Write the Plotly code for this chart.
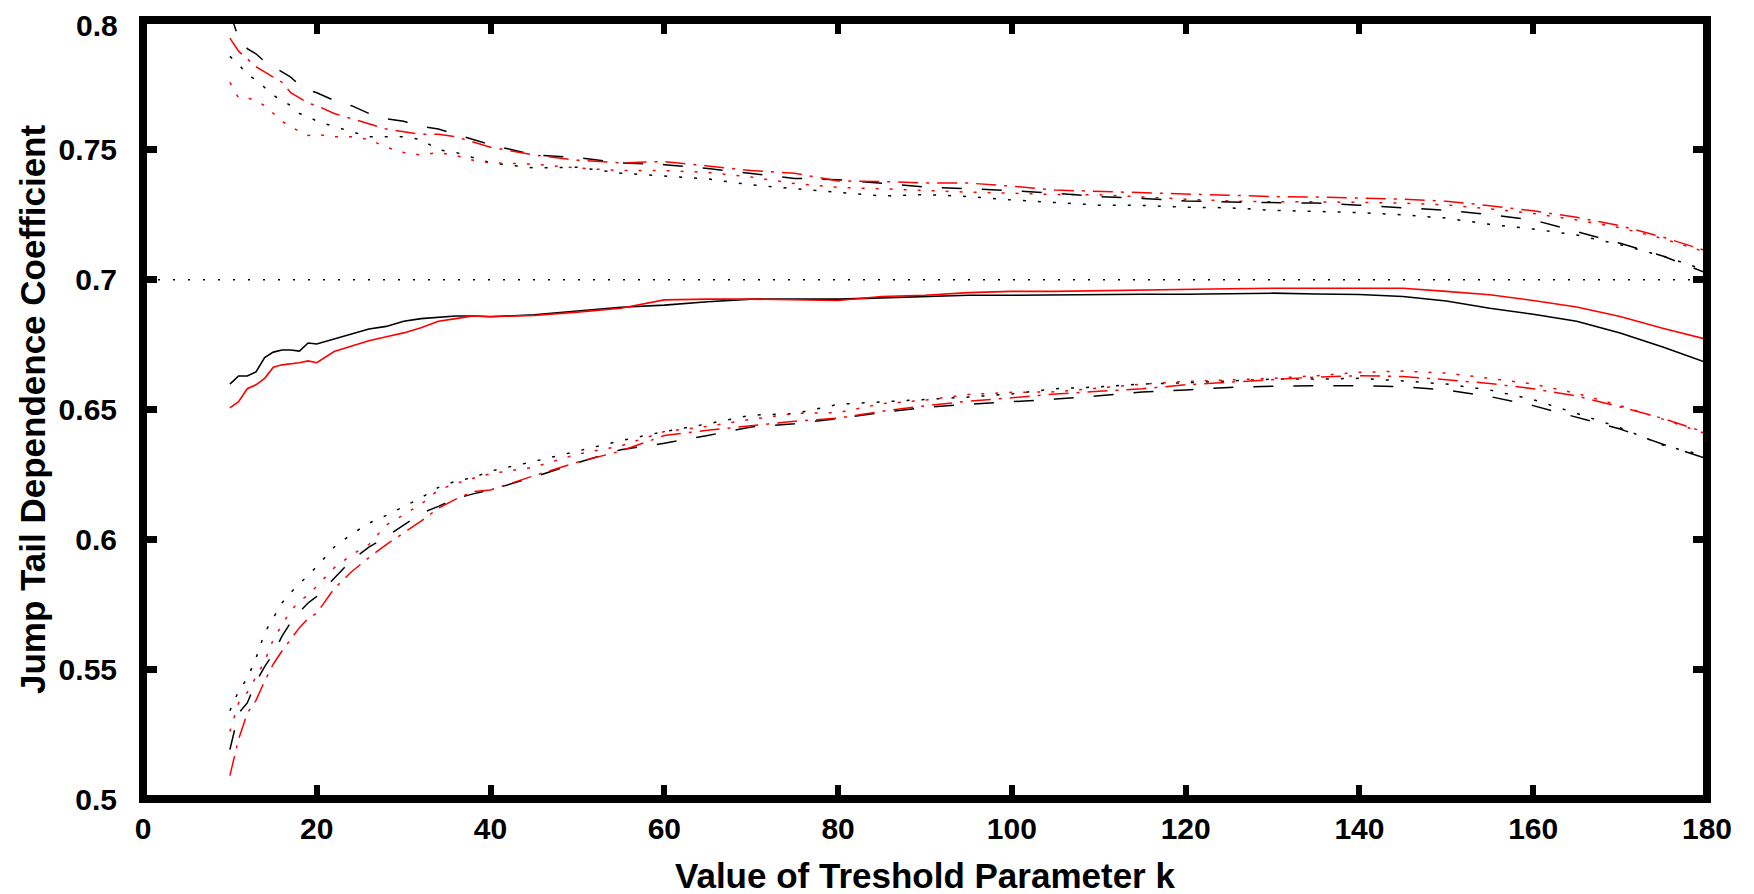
import plotly.graph_objects as go

k = [10, 11, 12, 13, 14, 15, 16, 17, 18, 19, 20, 22, 24, 26, 28, 30, 32, 34, 36, 38, 40,
     45, 50, 55, 60, 65, 70, 75, 80, 85, 90, 95, 100, 105, 110, 115, 120, 125, 130, 135,
     140, 145, 150, 155, 160, 165, 170, 175, 180]

black_solid = [0.6598, 0.6629, 0.6629, 0.6645, 0.6700, 0.6721, 0.6729, 0.6729, 0.6725, 0.6756, 0.6752,
               0.6772, 0.6790, 0.6810, 0.6820, 0.6840, 0.6850, 0.6855, 0.6860, 0.6860, 0.6857,
               0.6865, 0.6880, 0.6894, 0.6902, 0.6915, 0.6925, 0.6925, 0.6925, 0.6930, 0.6935,
               0.6940, 0.6940, 0.6942, 0.6944, 0.6944, 0.6944, 0.6946, 0.6948, 0.6945, 0.6943,
               0.6935, 0.6918, 0.6890, 0.6867, 0.6840, 0.6795, 0.6740, 0.6680]
red_solid = [0.6506, 0.6530, 0.6580, 0.6595, 0.6620, 0.6663, 0.6672, 0.6675, 0.6680, 0.6687, 0.6680,
             0.6723, 0.6745, 0.6765, 0.6780, 0.6795, 0.6815, 0.6840, 0.6850, 0.6860, 0.6858,
             0.6862, 0.6875, 0.6890, 0.6922, 0.6925, 0.6925, 0.6922, 0.6920, 0.6935, 0.6940,
             0.6950, 0.6955, 0.6955, 0.6958, 0.6960, 0.6963, 0.6965, 0.6967, 0.6967, 0.6967,
             0.6967, 0.6955, 0.6942, 0.6920, 0.6895, 0.6858, 0.6812, 0.6770]

black_dash_upper = [0.803, 0.793, 0.789, 0.787, 0.784, 0.782, 0.780, 0.778, 0.775, 0.773, 0.772,
                    0.769, 0.767, 0.764, 0.762, 0.761, 0.759, 0.758, 0.756, 0.754, 0.752,
                    0.748, 0.747, 0.745, 0.7443, 0.7428, 0.741, 0.739, 0.7385, 0.737, 0.7357,
                    0.735, 0.7343, 0.7333, 0.732, 0.7313, 0.7303, 0.7299, 0.7296, 0.7295, 0.7287,
                    0.7277, 0.7267, 0.725, 0.723, 0.7185, 0.714, 0.709, 0.7025]
red_dashdot_upper = [0.793, 0.788, 0.785, 0.782, 0.780, 0.778, 0.776, 0.772, 0.770, 0.768, 0.767,
                     0.764, 0.762, 0.760, 0.758, 0.757, 0.756, 0.756, 0.755, 0.753, 0.751,
                     0.748, 0.746, 0.745, 0.7455, 0.7438, 0.742, 0.741, 0.738, 0.7378, 0.7372,
                     0.7372, 0.736, 0.7345, 0.734, 0.7335, 0.7332, 0.7325, 0.732, 0.7318, 0.7313,
                     0.731, 0.7302, 0.7285, 0.7265, 0.724, 0.7208, 0.7163, 0.711]
black_dot_upper = [0.786, 0.783, 0.779, 0.777, 0.774, 0.771, 0.769, 0.767, 0.764, 0.763, 0.761,
                   0.759, 0.757, 0.755, 0.755, 0.755, 0.754, 0.750, 0.749, 0.747, 0.745,
                   0.743, 0.7433, 0.741, 0.740, 0.7388, 0.7365, 0.735, 0.7335, 0.7322, 0.7328,
                   0.732, 0.7307, 0.7297, 0.7287, 0.7286, 0.7279, 0.7277, 0.7267, 0.7263, 0.7258,
                   0.725, 0.7237, 0.7213, 0.7195, 0.7172, 0.7135, 0.709, 0.7035]
red_dot_upper = [0.776, 0.770, 0.770, 0.769, 0.767, 0.764, 0.761, 0.759, 0.757, 0.7555, 0.756,
                 0.755, 0.755, 0.754, 0.751, 0.749, 0.748, 0.749, 0.7478, 0.746, 0.745,
                 0.7445, 0.743, 0.742, 0.742, 0.7413, 0.7395, 0.737, 0.7355, 0.735, 0.7343,
                 0.7337, 0.7333, 0.7328, 0.7327, 0.7318, 0.731, 0.7303, 0.730, 0.730, 0.7298,
                 0.7295, 0.7288, 0.7273, 0.7255, 0.723, 0.720, 0.7157, 0.7105]

black_dash_lower = [0.519, 0.533, 0.537, 0.545, 0.551, 0.556, 0.5627, 0.568, 0.572, 0.5755, 0.578,
                    0.585, 0.592, 0.597, 0.601, 0.6055, 0.610, 0.6127, 0.6157, 0.6175, 0.619,
                    0.624, 0.6295, 0.6345, 0.637, 0.640, 0.6433, 0.6445, 0.6465, 0.6488, 0.6508,
                    0.652, 0.653, 0.654, 0.6553, 0.6567, 0.6575, 0.6585, 0.659, 0.6592, 0.6591,
                    0.6588, 0.6575, 0.655, 0.6515, 0.647, 0.6425, 0.6365, 0.631]
red_dashdot_lower = [0.509, 0.523, 0.533, 0.538, 0.5454, 0.552, 0.557, 0.5615, 0.566, 0.5695, 0.5716,
                     0.581, 0.5875, 0.593, 0.598, 0.6025, 0.607, 0.612, 0.6155, 0.6184, 0.619,
                     0.6245, 0.6297, 0.634, 0.640, 0.642, 0.6438, 0.6455, 0.6467, 0.6493, 0.6514,
                     0.6532, 0.6545, 0.656, 0.657, 0.658, 0.6595, 0.6605, 0.6613, 0.6625, 0.663,
                     0.6627, 0.6615, 0.660, 0.658, 0.6552, 0.651, 0.6465, 0.641]
black_dot_lower = [0.534, 0.5415, 0.5465, 0.5542, 0.564, 0.570, 0.5755, 0.5795, 0.583, 0.5862, 0.5895,
                   0.597, 0.602, 0.6062, 0.6092, 0.6125, 0.616, 0.620, 0.6224, 0.6238, 0.6263,
                   0.630, 0.634, 0.638, 0.6415, 0.6445, 0.6478, 0.6484, 0.652, 0.6529, 0.654,
                   0.6548, 0.656, 0.658, 0.6587, 0.6598, 0.6603, 0.661, 0.6617, 0.6617, 0.662,
                   0.661, 0.6598, 0.6575, 0.6538, 0.6485, 0.643, 0.6362, 0.632]
red_dot_lower = [0.526, 0.537, 0.541, 0.547, 0.553, 0.5615, 0.567, 0.5725, 0.5761, 0.5785, 0.582,
                 0.589, 0.594, 0.598, 0.6055, 0.6095, 0.6135, 0.619, 0.6215, 0.6235, 0.6253,
                 0.6278, 0.6328, 0.636, 0.6415, 0.6435, 0.6462, 0.6485, 0.6488, 0.6522, 0.6536,
                 0.6558, 0.6566, 0.6568, 0.6583, 0.6598, 0.6608, 0.6615, 0.662, 0.663, 0.6643,
                 0.6648, 0.664, 0.662, 0.6598, 0.6562, 0.6515, 0.6462, 0.6405]

ref_k = [0, 180]
ref_level = [0.7, 0.7]

x_ticks = [0, 20, 40, 60, 80, 100, 120, 140, 160, 180]
y_ticks = [0.5, 0.55, 0.6, 0.65, 0.7, 0.75, 0.8]
y_tick_text = ["0.5", "0.55", "0.6", "0.65", "0.7", "0.75", "0.8"]

x_title = "Value of Treshold Parameter k"
y_title = "Jump Tail Dependence Coefficient"

BLACK = "#000000"
RED = "#ff0000"

fig = go.Figure()

def add(y, color, dash, width=1.5, x=k):
    fig.add_trace(go.Scatter(x=x, y=y, mode="lines",
                             line=dict(color=color, dash=dash, width=width),
                             showlegend=False, hoverinfo="skip"))

add(ref_level, BLACK, "2px,13px", 1.5, x=ref_k)
add(black_dot_upper, BLACK, "3px,12px")
add(red_dot_upper, RED, "3px,11px")
add(black_dash_upper, BLACK, "20px,20px")
add(red_dashdot_upper, RED, "20px,8px,3px,8px")
add(black_dot_lower, BLACK, "3px,12px")
add(red_dot_lower, RED, "3px,11px")
add(black_dash_lower, BLACK, "20px,20px")
add(red_dashdot_lower, RED, "20px,8px,3px,8px")
add(black_solid, BLACK, "solid", 1.6)
add(red_solid, RED, "solid", 1.6)

FONT = "Liberation Sans, Arial, sans-serif"
tickfont = dict(family=FONT, size=30, color=BLACK, weight="bold")

# page has an 8px body margin; figure sized to fill the rest of the window
OFF = 8
W, H = 1754 - OFF, 894 - OFF
L, T = 142.5 - OFF, 20 - OFF
R = W - (1707 - OFF)
B = H - (799.5 - OFF)
pw, ph = W - L - R, H - T - B

Y_STANDOFF = 25
# the top tick label sits against the top edge; it is drawn as an annotation so it stays inside the page
y_axis_text = y_tick_text[:-1] + [""]

fig.update_layout(
    width=W, height=H,
    margin=dict(l=L, r=R, t=T, b=B, pad=0, autoexpand=False),
    paper_bgcolor="white", plot_bgcolor="white",
    xaxis=dict(range=[0, 180], tickvals=x_ticks, ticktext=[str(v) for v in x_ticks],
               ticks="inside", ticklen=14, tickwidth=6, tickcolor=BLACK, mirror="ticks",
               showline=False, showgrid=False, zeroline=False, tickfont=tickfont,
               ticklabelstandoff=9, automargin=False, ticklabeloverflow="allow"),
    yaxis=dict(range=[0.5, 0.8], tickvals=y_ticks, ticktext=y_axis_text,
               ticks="inside", ticklen=14, tickwidth=7, tickcolor=BLACK, mirror="ticks",
               showline=False, showgrid=False, zeroline=False, tickfont=tickfont,
               ticklabelstandoff=Y_STANDOFF, automargin=False, ticklabeloverflow="allow"),
    shapes=[dict(type="rect", xref="paper", yref="paper", x0=0, x1=1, y0=0, y1=1,
                 line=dict(color=BLACK, width=8), fillcolor="rgba(0,0,0,0)", layer="above")],
    annotations=[
        dict(text=y_tick_text[-1], xref="paper", yref="paper",
             x=-(Y_STANDOFF - 1) / pw, y=1 + T / ph,
             xanchor="right", yanchor="top", showarrow=False, borderpad=0,
             font=tickfont),
        dict(text=x_title, xref="paper", yref="paper", x=0.5,
             y=-((876 - OFF) - (T + ph)) / ph,
             xanchor="center", yanchor="middle", showarrow=False,
             font=dict(family=FONT, size=35, color=BLACK, weight="bold")),
        dict(text=y_title, xref="paper", yref="paper", x=((32 - OFF) - L) / pw, y=0.5,
             xanchor="center", yanchor="middle", showarrow=False, textangle=-90,
             font=dict(family=FONT, size=35, color=BLACK, weight="bold")),
    ],
)

fig.write_html("out.html")
